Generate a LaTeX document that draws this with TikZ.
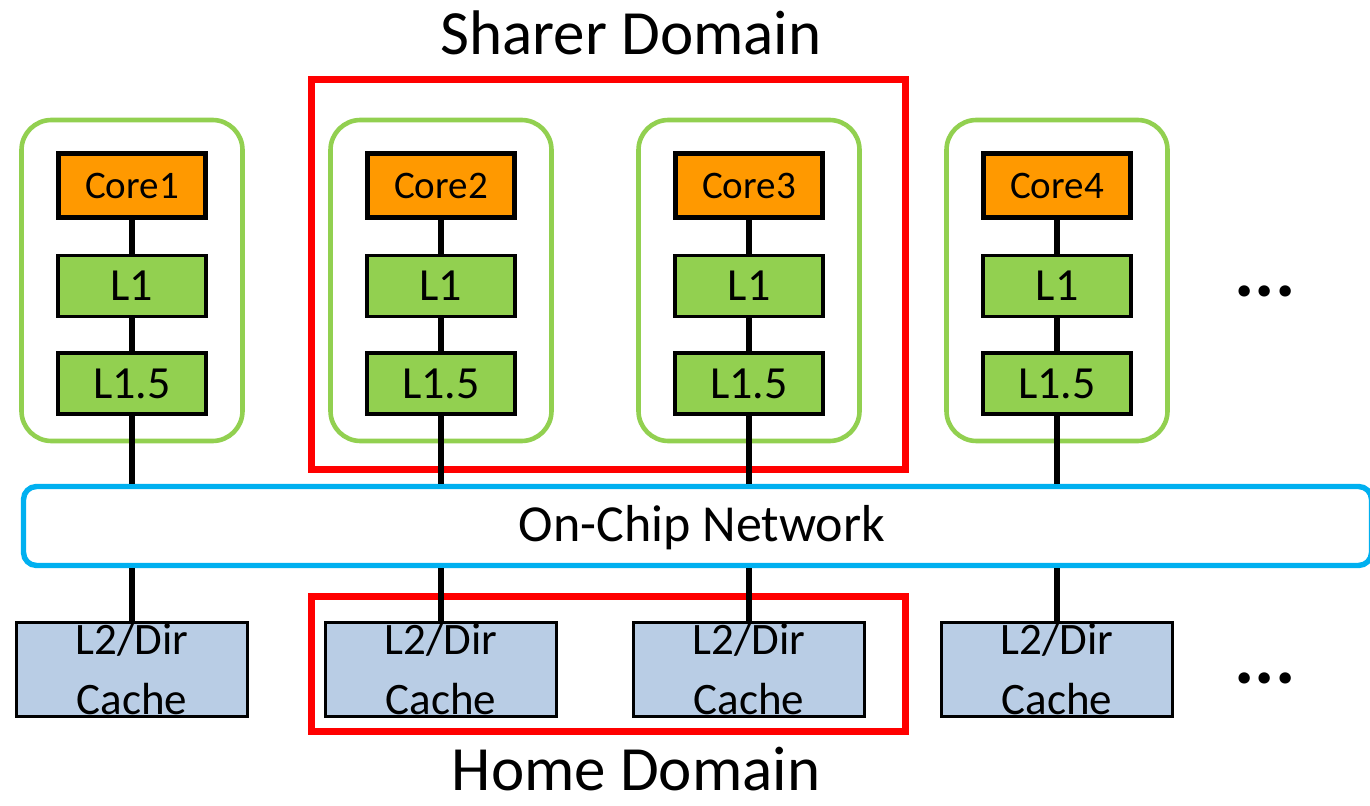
\documentclass[tikz,border=0pt]{standalone}
\usepackage{fontspec}
\setmainfont{Carlito}
\usepackage{tikz}
\usetikzlibrary{positioning,calc}
\definecolor{coreorange}{RGB}{255,153,0}
\definecolor{cachegreen}{RGB}{146,208,80}
\definecolor{ltwoblue}{RGB}{185,205,229}
\definecolor{noccyan}{RGB}{0,176,240}
\definecolor{domred}{RGB}{255,0,0}

\begin{document}
\begin{tikzpicture}[
      x=0.5pt, y=-0.5pt,
      corebox/.style={draw=black, line width=2.8pt, fill=coreorange, minimum width=73.5pt,
        minimum height=32pt, inner sep=0pt, font=\fontsize{19.5pt}{23pt}\selectfont},
      lonebox/.style={draw=black, line width=1.9pt, fill=cachegreen, minimum width=74pt,
        minimum height=30.5pt, inner sep=0pt, font=\fontsize{23pt}{27pt}\selectfont},
      ltwobox/.style={draw=black, line width=1.7pt, fill=ltwoblue, minimum width=115.5pt,
        minimum height=47pt, inner sep=0pt, align=center, font=\fontsize{22.5pt}{30pt}\selectfont},
      grpbox/.style={draw=cachegreen, line width=2.3pt, rounded corners=15pt,
        minimum width=110.5pt, minimum height=160.5pt, inner sep=0pt},
      dombox/.style={draw=domred, line width=3.8pt},
      netbox/.style={draw=noccyan, line width=2.7pt, rounded corners=6.5pt, fill=white,
        minimum width=674pt, minimum height=39.5pt, inner sep=0pt},
      wire/.style={draw=black, line width=2.7pt},
      title/.style={anchor=base, inner sep=0pt, font=\fontsize{31.5pt}{36pt}\selectfont},
      dotsnode/.style={font=\fontsize{38pt}{42pt}\selectfont\bfseries, inner sep=0pt}
    ]
    \useasboundingbox (0,0) rectangle (1370,806);
    \draw[dombox] (311.5,79.5) rectangle (905.5,469.5);
    \draw[dombox] (311.5,596.5) rectangle (905.5,731.5);
    \foreach \i/\x in {1/132, 2/441, 3/749, 4/1057} {
      \node[grpbox] (grp\i) at (\x,280.5) {};
      \node[corebox] (core\i) at (\x,185.5) {Core\i};
      \node[lonebox] (lone\i) at (\x,286) {L1};
      \node[lonebox] (lhalf\i) at (\x,383.5) {L1.5};
      \node[ltwobox] (ltwo\i) at (\x,669.5) {L2/Dir\\Cache};
    }
    \node[netbox] (net) at (697.5,526) {};
    \foreach \i in {1,...,4} {
      \draw[wire] (core\i) -- (lone\i);
      \draw[wire] (lone\i) -- (lhalf\i);
      \draw[wire] (lhalf\i) -- (lhalf\i |- net.north);
      \draw[wire] (net.south -| ltwo\i) -- (ltwo\i);
    }
    \node[anchor=base, font=\fontsize{26pt}{30pt}\selectfont] (netlbl) at (702,542) {On-Chip Network};
    \node[title] (sharer) at (631,55) {Sharer Domain};
    \node[title] (home) at (636,790) {Home Domain};
    \node[dotsnode] (dotsup) at (1265,291) {...};
    \node[dotsnode] (dotsdown) at (1265,678) {...};
  \end{tikzpicture}
\end{document}
